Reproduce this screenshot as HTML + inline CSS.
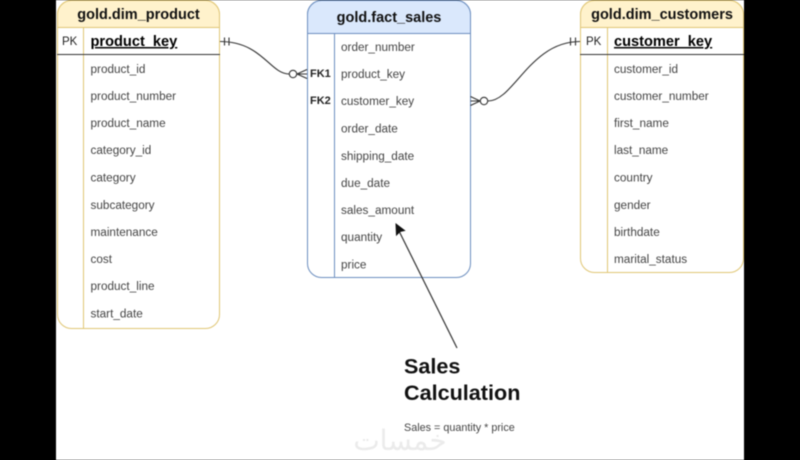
<!DOCTYPE html>
<html>
<head>
<meta charset="utf-8">
<style>
html,body{margin:0;padding:0;background:#000;width:800px;height:460px;overflow:hidden}
svg{display:block;filter:blur(0.4px)}
text{font-family:"Liberation Sans",sans-serif;fill:#444;font-size:11.75px}
.h{font-weight:bold;font-size:14.5px;fill:#111;text-anchor:middle}
.k{font-weight:bold;font-size:14.6px;fill:#000;text-decoration:underline}
.tag{font-size:11.5px;fill:#222}
.fk{font-size:11px;font-weight:bold;fill:#222}
</style>
</head>
<body>
<svg width="800" height="460" viewBox="0 0 800 460" xmlns="http://www.w3.org/2000/svg">
<rect x="0" y="0" width="800" height="460" fill="#000"/>
<rect x="56" y="0" width="688" height="460" fill="#fff"/>

<!-- Left table -->
<rect x="57.5" y="0.5" width="162" height="328" rx="14" fill="#fff" stroke="#e0c674"/>
<path d="M57.5 27.5V14.5a14 14 0 0 1 14-14h134a14 14 0 0 1 14 14V27.5Z" fill="#fff2cc" stroke="#e0c674"/>
<path d="M83.5 27.5V328" stroke="#e0c674" fill="none"/>
<path d="M57 54.500H220" stroke="#333" fill="none"/>
<text class="h" x="138.500" y="19">gold.dim_product</text>
<text class="tag" x="62" y="45">PK</text>
<text class="k" x="90.500" y="46">product_key</text>
<text x="90.500" y="73">product_id</text>
<text x="90.500" y="100">product_number</text>
<text x="90.500" y="127">product_name</text>
<text x="90.500" y="154">category_id</text>
<text x="90.500" y="181.500">category</text>
<text x="90.500" y="209">subcategory</text>
<text x="90.500" y="236">maintenance</text>
<text x="90.500" y="263">cost</text>
<text x="90.500" y="290">product_line</text>
<text x="90.500" y="317.500">start_date</text>

<!-- Center table -->
<rect x="307.5" y="0.5" width="163" height="277" rx="14" fill="#fff" stroke="#6c8ebf"/>
<path d="M307.5 33.5V14.5a14 14 0 0 1 14-14h135a14 14 0 0 1 14 14V33.5Z" fill="#dae8fc" stroke="#6c8ebf"/>
<path d="M334.5 33.5V277" stroke="#6c8ebf" fill="none"/>
<text class="h" x="389" y="22">gold.fact_sales</text>
<text x="341" y="51">order_number</text>
<text x="341" y="78">product_key</text>
<text x="341" y="105">customer_key</text>
<text x="341" y="132.500">order_date</text>
<text x="341" y="160">shipping_date</text>
<text x="341" y="187">due_date</text>
<text x="341" y="214">sales_amount</text>
<text x="341" y="241">quantity</text>
<text x="341" y="268.500">price</text>
<text class="fk" x="310" y="77">FK1</text>
<text class="fk" x="310" y="104">FK2</text>

<!-- Right table -->
<rect x="580.5" y="0.5" width="163" height="272" rx="14" fill="#fff" stroke="#e0c674"/>
<path d="M580.5 27.5V14.5a14 14 0 0 1 14-14h135a14 14 0 0 1 14 14V27.5Z" fill="#fff2cc" stroke="#e0c674"/>
<path d="M607.5 27.5V272" stroke="#e0c674" fill="none"/>
<path d="M580 54.500H744" stroke="#333" fill="none"/>
<text class="h" x="662" y="19">gold.dim_customers</text>
<text class="tag" x="586" y="45">PK</text>
<text class="k" x="614" y="46">customer_key</text>
<text x="614" y="73">customer_id</text>
<text x="614" y="100">customer_number</text>
<text x="614" y="127">first_name</text>
<text x="614" y="154">last_name</text>
<text x="614" y="181.500">country</text>
<text x="614" y="209">gender</text>
<text x="614" y="236">birthdate</text>
<text x="614" y="263">marital_status</text>

<!-- Connectors -->
<g fill="none" stroke="#333" stroke-width="1.1">
<path d="M220 41.500C262 41.500 270 74 289 74"/>
<path d="M224.500 37.500V45.500M229 37.500V45.500"/>
<circle cx="293" cy="74" r="3.700" fill="#fff"/>
<path d="M297 74L307 69.500M297 74H307M297 74L307 78.500"/>
<path d="M580 41.500C530 41.500 514 101 488 101"/>
<path d="M570.500 37.500V45.500M575.500 37.500V45.500"/>
<circle cx="484" cy="101" r="3.700" fill="#fff"/>
<path d="M480 101L470.500 96.500M480 101H470.500M480 101L470.500 105.500"/>
<path d="M457 348L399 231" stroke-width="1.2"/>
</g>
<path d="M396 224L396.500 235L400 231.500L404.500 230.500Z" fill="#111" stroke="#111"/>

<!-- Notes -->
<text x="404" y="373.500" style="font-size:21.6px;font-weight:bold;fill:#111">Sales</text>
<text x="404" y="400" style="font-size:21.6px;font-weight:bold;fill:#111">Calculation</text>
<text x="404" y="431" style="font-size:10.8px;fill:#444">Sales = quantity * price</text>
<text x="400" y="450" text-anchor="middle" style="font-family:'DejaVu Sans',sans-serif;font-size:28px;fill:#ebebeb">خمسات</text>
</svg>
</body>
</html>
